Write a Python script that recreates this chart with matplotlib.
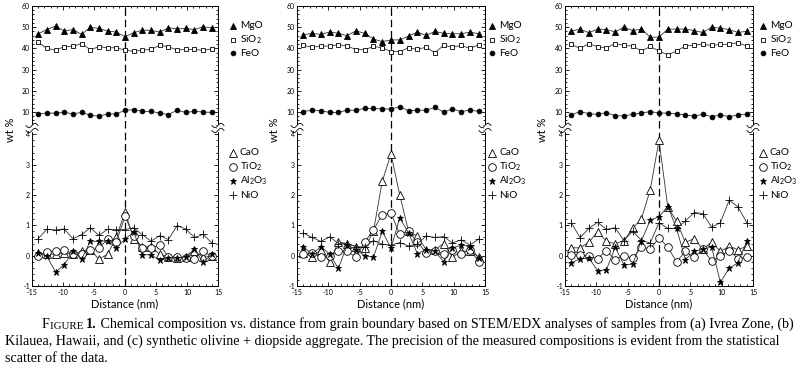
import numpy as np
import matplotlib.pyplot as plt
from matplotlib.lines import Line2D
from matplotlib.patches import Rectangle
from matplotlib.ticker import MultipleLocator

plt.rcParams['font.family'] = ['Lato', 'DejaVu Sans']
plt.rcParams['mathtext.default'] = 'regular'
plt.rcParams['axes.unicode_minus'] = False

distance = [-14.0, -12.6, -11.2, -9.8, -8.4, -7.0, -5.6, -4.2, -2.8, -1.4, 0.0,
            1.4, 2.8, 4.2, 5.6, 7.0, 8.4, 9.8, 11.2, 12.6, 14.0]

# (a) Ivrea Zone
mgo_a = [46.9, 48.9, 50.5, 48.2, 48.9, 46.6, 50.0, 49.4, 48.2, 47.7, 45.5,
         47.4, 48.6, 48.5, 47.7, 49.7, 49.2, 49.4, 48.9, 50.2, 49.7]
sio2_a = [42.8, 40.0, 39.2, 40.8, 40.9, 42.3, 39.4, 40.8, 40.3, 40.3, 39.2,
          38.6, 39.2, 39.5, 41.5, 40.8, 39.2, 39.5, 39.5, 39.1, 39.7]
feo_a = [9.1, 9.5, 9.5, 9.8, 9.1, 9.8, 8.5, 8.0, 9.1, 9.1, 10.8,
         11.1, 10.3, 10.3, 9.5, 8.8, 10.8, 9.8, 10.3, 10.0, 9.8]
cao_a = [0.10, 0.05, 0.05, 0.08, 0.05, 0.15, 0.20, -0.12, 0.05, 0.60, 1.45,
         0.55, 0.30, 0.30, 0.05, -0.05, -0.08, -0.05, 0.15, -0.05, -0.02]
tio2_a = [0.00, 0.12, 0.15, 0.20, 0.05, 0.05, 0.18, 0.25, 0.55, 0.45, 1.30,
          0.65, 0.25, 0.25, 0.35, -0.03, -0.05, -0.08, -0.10, 0.15, -0.02]
al2o3_a = [0.10, -0.02, -0.54, -0.30, 0.15, -0.12, 0.48, 0.47, 0.50, 0.25, 0.54,
           0.78, 0.03, 0.03, -0.15, -0.07, -0.07, -0.03, 0.22, -0.22, 0.05]
nio_a = [0.56, 0.87, 0.85, 0.88, 0.56, 0.69, 0.92, 0.67, 0.87, 0.86, 0.86,
         0.92, 0.69, 0.48, 0.66, 0.53, 0.99, 0.88, 0.60, 0.70, 0.42]

# (b) Kilauea, Hawaii
mgo_b = [46.4, 47.1, 46.6, 47.8, 47.1, 46.0, 48.3, 47.1, 44.4, 43.2, 44.0,
         44.0, 45.8, 47.7, 46.1, 48.0, 47.1, 46.9, 46.9, 47.7, 46.9]
sio2_b = [41.5, 40.5, 41.1, 41.1, 41.7, 41.2, 39.4, 39.4, 40.9, 40.3, 38.5,
          38.5, 40.3, 39.5, 40.6, 38.0, 41.4, 40.6, 41.4, 40.0, 41.7]
feo_b = [10.2, 10.9, 10.6, 9.8, 9.8, 10.9, 10.8, 11.7, 11.7, 11.4, 11.4,
         12.5, 10.6, 10.9, 10.8, 12.2, 10.0, 11.4, 10.2, 10.9, 10.3]
cao_b = [0.10, -0.03, 0.20, -0.20, 0.45, 0.40, 0.30, 0.25, 0.80, 2.45, 3.35,
         2.00, 0.80, 0.65, 0.20, 0.20, 0.40, -0.05, 0.15, 0.15, -0.05]
tio2_b = [0.05, 0.10, -0.05, 0.00, 0.15, 0.15, -0.05, 0.45, 0.85, 1.35, 1.40,
          0.70, 0.80, 0.45, 0.10, 0.15, 0.05, 0.20, 0.05, 0.20, -0.20]
al2o3_b = [0.30, 0.05, 0.30, 0.05, -0.42, 0.35, 0.20, 0.00, -0.05, 0.80, 0.25,
           1.25, 0.75, 0.07, 0.20, 0.15, -0.20, 0.25, 0.35, 0.30, -0.08]
nio_b = [0.75, 0.60, 0.47, 0.62, 0.40, 0.40, 0.30, 0.28, 0.50, 0.38, 0.35,
         0.43, 0.32, 0.38, 0.65, 0.60, 0.63, 0.42, 0.52, 0.35, 0.55]

# (c) synthetic olivine + diopside
mgo_c = [48.1, 49.1, 47.4, 49.1, 48.9, 47.8, 50.0, 48.4, 49.1, 45.3, 45.3,
         49.1, 49.1, 49.1, 48.4, 47.5, 50.0, 49.5, 48.9, 47.5, 48.1]
sio2_c = [41.9, 40.0, 42.2, 40.8, 40.2, 42.3, 41.4, 41.1, 38.8, 40.9, 38.8,
          36.9, 38.8, 41.1, 41.6, 41.9, 41.4, 41.9, 41.9, 42.7, 41.1]
feo_c = [8.6, 10.2, 9.2, 8.9, 9.7, 8.3, 8.1, 8.9, 9.5, 10.2, 9.5,
         9.5, 9.1, 8.6, 8.1, 8.9, 7.8, 8.6, 7.8, 8.6, 9.1]
cao_c = [0.26, 0.26, 0.44, 0.79, 0.48, 0.39, 0.50, 0.90, 1.22, 2.17, 3.80,
         1.60, 1.14, 0.44, 0.56, 0.22, 0.44, 0.14, 0.31, 0.20, 0.31]
tio2_c = [0.03, 0.03, -0.02, -0.10, 0.17, -0.13, 0.00, -0.08, 0.28, 0.22, 0.59,
          0.28, -0.20, 0.14, -0.06, 0.22, -0.19, -0.02, 0.17, -0.10, -0.06]
al2o3_c = [-0.24, -0.10, -0.08, -0.49, -0.47, 0.28, -0.30, -0.28, 0.50, 1.17, 1.28,
           1.62, 0.90, -0.13, 0.14, 0.22, 0.28, -0.88, -0.41, -0.24, 0.48]
nio_c = [1.09, 0.59, 0.90, 1.10, 0.87, 0.92, 0.50, 0.81, 0.50, 0.42, 1.09,
         0.90, 0.90, 1.14, 1.42, 1.39, 0.94, 1.09, 1.83, 1.61, 1.09]

W, H = 800, 369
fig = plt.figure(figsize=(8, 3.69), dpi=100, facecolor='white')


def fx(px):
    return px / W


def fy(py):
    return 1 - py / H


top_px, brk_px, bot_px = 6, 128, 286

styles = {
    'MgO': dict(marker='^', ms=3.8, mfc='black'),
    'SiO$_2$': dict(marker='s', ms=3.3, mfc='white'),
    'FeO': dict(marker='o', ms=3.4, mfc='black'),
    'CaO': dict(marker='^', ms=5.2, mfc='white'),
    'TiO$_2$': dict(marker='o', ms=5.5, mfc='white'),
    'Al$_2$O$_3$': dict(marker='*', ms=5.0, mfc='black'),
    'NiO': dict(marker='+', ms=6.0, mfc='black'),
}


def style_axis(ax):
    ax.tick_params(which='both', direction='in', labelsize=5, width=0.6,
                   left=True, right=True, pad=1.5)
    ax.tick_params(axis='x', pad=2.5)
    ax.tick_params(which='major', length=3)
    ax.tick_params(which='minor', length=1.6)
    ax.set_xlim(-15, 15)
    ax.xaxis.set_major_locator(MultipleLocator(5))
    ax.xaxis.set_minor_locator(MultipleLocator(1))
    for s in ax.spines.values():
        s.set_linewidth(0.7)


def draw_panel(left_px, right_px, upper, lower, leg_marker_px, leg_text_px):
    left = fx(left_px)
    width = fx(right_px - left_px)
    ax_up = fig.add_axes([left, fy(brk_px), width, fy(top_px) - fy(brk_px)])
    ax_lo = fig.add_axes([left, fy(bot_px), width, fy(brk_px) - fy(bot_px)])

    for ax in (ax_up, ax_lo):
        style_axis(ax)
        ax.axvline(0, color='black', lw=0.9, ls=(0, (6, 3)), zorder=1)

    names_up = ['MgO', 'SiO$_2$', 'FeO']
    for name, vals in zip(names_up, upper):
        ax_up.plot(distance, vals, color='#333333', lw=0.6, mec='black',
                   mew=0.6, zorder=3, **styles[name])
    names_lo = ['CaO', 'TiO$_2$', 'Al$_2$O$_3$', 'NiO']
    for name, vals in zip(names_lo, lower):
        ax_lo.plot(distance, vals, color='#333333', lw=0.6, mec='black',
                   mew=0.6, zorder=3, **styles[name])

    ax_up.set_ylim(2.45, 60)
    ax_up.yaxis.set_major_locator(MultipleLocator(10))
    ax_up.yaxis.set_minor_locator(MultipleLocator(2))
    ax_up.set_yticks([10, 20, 30, 40, 50, 60])
    ax_up.spines['bottom'].set_visible(False)
    ax_up.tick_params(which='both', top=True, bottom=False, labelbottom=False)

    ax_lo.set_ylim(-1, 4.21)
    ax_lo.yaxis.set_major_locator(MultipleLocator(1))
    ax_lo.yaxis.set_minor_locator(MultipleLocator(0.2))
    ax_lo.spines['top'].set_visible(False)
    ax_lo.tick_params(which='both', top=False, bottom=True)
    ax_lo.set_xlabel('Distance (nm)', fontsize=8, labelpad=1.5)

    # y label between the two parts
    fig.text(fx(left_px - 22), fy(130), 'wt %', rotation=90, fontsize=8,
             ha='center', va='center')

    # break marks on both spines
    for sx in (left_px, right_px):
        fig.add_artist(Rectangle((fx(sx - 1.5), fy(131)), fx(3), fy(125) - fy(131),
                                 transform=fig.transFigure, color='white', zorder=5))
        t = np.linspace(-1, 1, 30)
        for off in (-2.5, 2.5):
            xs = sx + 6 * t
            ys = brk_px + off - 2.2 * np.sin(np.pi * t)
            fig.add_artist(Line2D(fx(xs), fy(ys), transform=fig.transFigure,
                                  color='black', lw=0.6, zorder=6))

    # legends
    for name, py in zip(names_up, [26, 40, 53]):
        fig.add_artist(Line2D([fx(leg_marker_px)], [fy(py)], transform=fig.transFigure,
                              ls='none', mec='black', mew=0.6, **styles[name]))
        fig.text(fx(leg_text_px), fy(py), name, fontsize=7.3, va='center', ha='left')
    for name, py in zip(names_lo, [153, 167, 181, 195]):
        fig.add_artist(Line2D([fx(leg_marker_px)], [fy(py)], transform=fig.transFigure,
                              ls='none', mec='black', mew=0.6, **styles[name]))
        fig.text(fx(leg_text_px), fy(py), name, fontsize=7.3, va='center', ha='left')


draw_panel(32, 218, [mgo_a, sio2_a, feo_a], [cao_a, tio2_a, al2o3_a, nio_a], 233, 240)
draw_panel(297, 485, [mgo_b, sio2_b, feo_b], [cao_b, tio2_b, al2o3_b, nio_b], 492, 499)
draw_panel(565, 753, [mgo_c, sio2_c, feo_c], [cao_c, tio2_c, al2o3_c, nio_c], 763, 770)

# caption
serif = ['Liberation Serif', 'DejaVu Serif']
cs = 10.1
t1 = fig.text(fx(42), fy(328), 'F', family=serif, fontsize=cs, va='baseline')
a2 = plt.annotate('IGURE ', xy=(1, 0), xycoords=t1, va='bottom', ha='left',
                  family=serif, fontsize=cs * 0.78)
a3 = plt.annotate('1.', xy=(1, 0), xycoords=a2, va='bottom', ha='left',
                  family=serif, fontsize=cs, weight='bold')
plt.annotate(' Chemical composition vs. distance from grain boundary based on STEM/EDX '
             'analyses of samples from (a) Ivrea Zone, (b)', xy=(1, 0), xycoords=a3,
             va='bottom', ha='left', family=serif, fontsize=cs)
fig.text(fx(5), fy(345), 'Kilauea, Hawaii, and (c) synthetic olivine + diopside aggregate. '
         'The precision of the measured compositions is evident from the statistical',
         family=serif, fontsize=cs, va='baseline')
fig.text(fx(5), fy(362), 'scatter of the data.', family=serif, fontsize=cs, va='baseline')

fig.savefig('out.png', dpi=100, facecolor='white')
